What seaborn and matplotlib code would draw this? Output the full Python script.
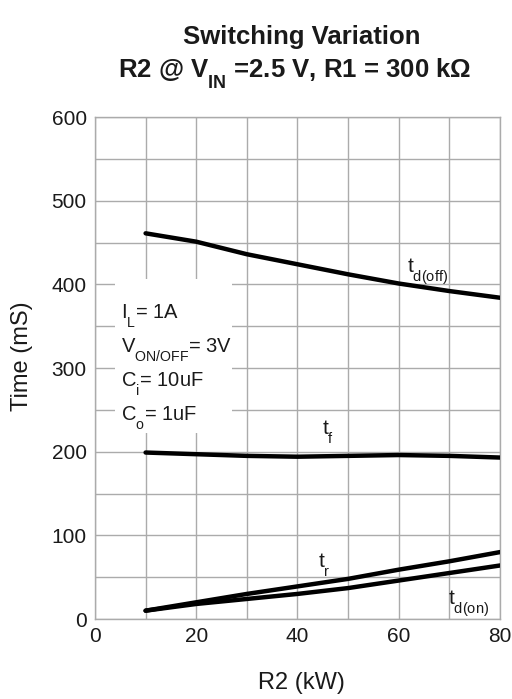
import numpy as np
import pandas as pd
import matplotlib
matplotlib.use("Agg")
import matplotlib.pyplot as plt
import seaborn as sns
from matplotlib.patches import Rectangle
import matplotlib._mathtext as mt

# R2 values (kOhm) and switching times
r2 = [10, 20, 30, 40, 50, 60, 70, 80]
t_doff = [461, 451, 436, 424, 412, 401, 392, 384]
t_f = [199, 197, 195, 194, 195, 196, 195, 193]
t_r = [10, 20, 30, 39, 48, 59, 69, 80]
t_don = [10, 18, 24, 30, 37, 46, 55, 64]

series_names = ["t_d(off)", "t_f", "t_r", "t_d(on)"]
conditions = [r"I$_{\mathregular{L}}$= 1A",
              r"V$_{\mathregular{ON/OFF}}$= 3V",
              r"C$_{\mathregular{i}}$= 10uF",
              r"C$_{\mathregular{o}}$= 1uF"]

df = pd.DataFrame({
    "R2": r2 * 4,
    "Time": t_doff + t_f + t_r + t_don,
    "curve": sum([[n] * len(r2) for n in series_names], []),
})

sns.set_theme(style="white")
plt.rcParams["font.family"] = ["Liberation Sans", "DejaVu Sans"]
plt.rcParams["mathtext.fontset"] = "custom"
plt.rcParams["mathtext.rm"] = "Liberation Sans"
plt.rcParams["mathtext.it"] = "Liberation Sans"
plt.rcParams["mathtext.bf"] = "Liberation Sans:bold"
# datasheet-style subscripts sit lower than mathtext's default
mt.FontConstantsBase.sub1 = 0.85
mt.FontConstantsBase.sub2 = 0.9

fig = plt.figure(figsize=(5.12, 6.99), dpi=100)
ax = fig.add_axes([0.1855, 0.1144, 0.791, 0.7182])

sns.lineplot(data=df, x="R2", y="Time", units="curve", estimator=None,
             color="black", linewidth=3.2, ax=ax, zorder=3)

ax.set_xlim(0, 80)
ax.set_ylim(0, 600)
ax.set_xticks(np.arange(0, 81, 20))
ax.set_xticks(np.arange(0, 81, 10), minor=True)
ax.set_yticks(np.arange(0, 601, 100))
ax.set_yticks(np.arange(0, 601, 50), minor=True)
ax.grid(True, which="both", color="#ababab", linewidth=1.0, zorder=0)
ax.set_axisbelow(True)
ax.tick_params(which="both", length=0, labelsize=15, colors="#1a1a1a", pad=6)
for s in ax.spines.values():
    s.set_color("#ababab")
    s.set_linewidth(1.0)
ax.set_xlabel("")
ax.set_ylabel("")

# white patch behind the test conditions
ax.add_patch(Rectangle((4, 222), 23, 184, facecolor="white",
                       edgecolor="none", zorder=1))
for i, txt in enumerate(conditions):
    ax.text(5.2, 359 - i * 40.6, txt, fontsize=14.5, color="#1a1a1a",
            va="baseline", ha="left", zorder=4)

# curve labels
lab = dict(fontsize=15, va="baseline", color="#1a1a1a", zorder=4)
ax.text(61.7, 414, r"t$_{\mathregular{d(off)}}$", **lab)
ax.text(44.9, 220, r"t$_{\mathregular{f}}$", **lab)
ax.text(44, 61, r"t$_{\mathregular{r}}$", **lab)
ax.text(69.7, 17, r"t$_{\mathregular{d(on)}}$", **lab)

fig.text(0.59, 0.947, "Switching Variation", fontsize=18.5,
         fontweight="bold", ha="center", va="center", color="#1a1a1a")
fig.text(0.575, 0.895,
         r"R2 @ V$_{\mathbf{IN}}$ =2.5 V, R1 = 300 k$\mathregular{\Omega}$",
         fontsize=18.5, fontweight="bold", ha="center", va="center",
         color="#1a1a1a")
fig.text(0.588, 0.023, "R2 (kW)", fontsize=17, ha="center", va="center",
         color="#1a1a1a")
fig.text(0.043, 0.49, "Time (mS)", fontsize=17, rotation=90,
         ha="center", va="center", color="#1a1a1a")

fig.savefig("out.png", dpi=100)
